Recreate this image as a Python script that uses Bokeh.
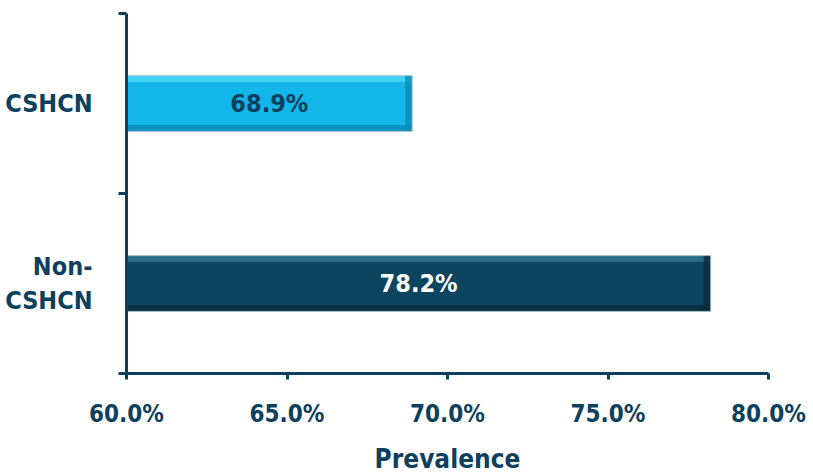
from bokeh.plotting import figure
from bokeh.models import ColumnDataSource, FixedTicker, NumeralTickFormatter, Range1d
from bokeh.core.properties import value
from bokeh.embed import file_html
from bokeh.resources import INLINE

categories = ["Non-\nCSHCN", "CSHCN"]
prevalence = [0.782, 0.689]
bar_colors = ["#0b4560", "#13b6e9"]
highlight_colors = ["#2f7590", "#4fdcfa"]
shade_colors = ["#062b3c", "#0b8ab3"]
label_colors = ["#ffffff", "#0d3f5e"]
x_ticks = [0.60, 0.65, 0.70, 0.75, 0.80]

FONT = "'DejaVu Sans Condensed', Roboto, sans-serif"
DARK = "#0d3f5e"
BAR_H = 0.31
BEVEL = 0.035

ypos = [i + 0.5 for i in range(len(categories))]
src = ColumnDataSource(dict(
    y=ypos,
    ytop=[y + BAR_H / 2 - BEVEL / 2 for y in ypos],
    ybot=[y - BAR_H / 2 + BEVEL / 2 for y in ypos],
    v=prevalence,
    vin=[v - 0.0022 for v in prevalence],
    mid=[(0.60 + v) / 2 for v in prevalence],
    lab=[f"{v*100:.1f}%" for v in prevalence],
    color=bar_colors,
    hcolor=highlight_colors,
    scolor=shade_colors,
    tcolor=label_colors,
))

p = figure(width=813, height=476, output_backend="svg", toolbar_location=None,
           x_range=Range1d(0.60, 0.80), y_range=Range1d(0, len(categories)))
p.min_border_left = 126
p.min_border_right = 45
p.min_border_top = 13
p.min_border_bottom = 101
p.outline_line_color = None
p.grid.visible = False
p.background_fill_color = "white"

p.hbar(y="y", left=0.60, right="v", height=BAR_H, fill_color="color",
       line_color=None, source=src)
# bevel: top highlight, bottom shade, right-end shade
p.hbar(y="ytop", left=0.60, right="v", height=BEVEL, fill_color="hcolor",
       line_color=None, fill_alpha=0.8, source=src)
p.hbar(y="ybot", left=0.60, right="v", height=BEVEL, fill_color="scolor",
       line_color=None, fill_alpha=0.8, source=src)
p.hbar(y="y", left="vin", right="v", height=BAR_H, fill_color="scolor",
       line_color=None, fill_alpha=0.8, source=src)
p.hbar(y="y", left=0.60, right="v", height=BAR_H, fill_color=None,
       line_color="#b8c8d0", line_width=1, source=src)
p.text(x="mid", y="y", text="lab", text_color="tcolor", text_align="center",
       text_baseline="middle", text_font=value(FONT), text_font_style="bold",
       text_font_size="25px", source=src)

# x axis
xa = p.xaxis[0]
xa.ticker = FixedTicker(ticks=x_ticks)
xa.formatter = NumeralTickFormatter(format="0.0%")
xa.axis_line_color = DARK
xa.axis_line_width = 3
xa.major_tick_line_color = DARK
xa.major_tick_line_width = 3
xa.major_tick_out = 6
xa.major_tick_in = 0
xa.minor_tick_line_color = None
xa.major_label_text_font = FONT
xa.major_label_text_font_style = "bold"
xa.major_label_text_font_size = "24px"
xa.major_label_text_color = DARK
xa.major_label_standoff = 20
xa.axis_label = "Prevalence"
xa.axis_label_text_font = FONT
xa.axis_label_text_font_style = "bold"
xa.axis_label_text_font_size = "26px"
xa.axis_label_text_color = DARK
xa.axis_label_standoff = 13

# y axis
ya = p.yaxis[0]
ya.ticker = FixedTicker(ticks=ypos, minor_ticks=[0, 1, 2])
ya.major_label_overrides = {y: c for y, c in zip(ypos, categories)}
ya.axis_line_color = DARK
ya.axis_line_width = 3
ya.major_tick_line_color = None
ya.minor_tick_line_color = DARK
ya.minor_tick_line_width = 3
ya.minor_tick_out = 8
ya.minor_tick_in = 0
ya.major_label_text_font = FONT
ya.major_label_text_font_style = "bold"
ya.major_label_text_font_size = "25px"
ya.major_label_text_color = DARK
ya.major_label_text_align = "center"
ya.major_label_standoff = 26

open("out.html", "w").write(file_html(p, INLINE))
